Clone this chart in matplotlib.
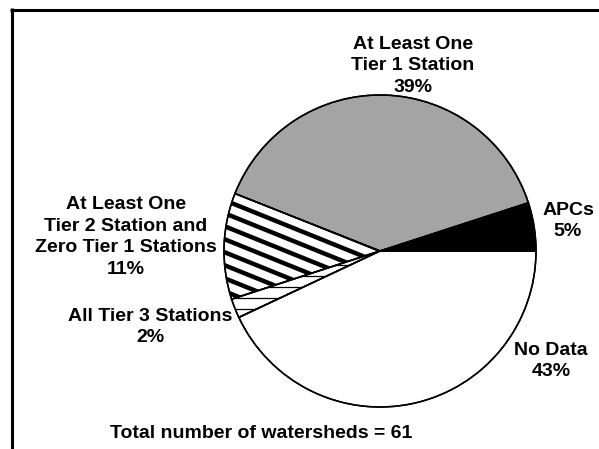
import numpy as np
import matplotlib
matplotlib.use("Agg")
import matplotlib.pyplot as plt

# ---- data ----
categories = ["APCs", "At Least One\nTier 1 Station", "At Least One\nTier 2 Station and\nZero Tier 1 Stations",
              "All Tier 3 Stations", "No Data"]
shares = [5, 39, 11, 2, 43]
total_label = "Total number of watersheds = 61"

W, H = 599, 449
fig = plt.figure(figsize=(W / 100, H / 100), dpi=100)
ax = fig.add_axes([0, 0, 1, 1])

cx, cy, R = 380, H - 251, 156
faces = ["black", "#a4a4a4", "white", "white", "white"]
wedges, _ = ax.pie(shares, startangle=0, counterclock=True, center=(cx, cy), radius=R,
                   colors=faces, frame=True,
                   wedgeprops=dict(edgecolor="black", linewidth=1.1))
ax.set_xlim(0, W)
ax.set_ylim(0, H)
ax.set_aspect("equal")
ax.axis("off")

# texture: diagonal stripes for Tier 2 slice
slope = -np.tan(np.deg2rad(22))
spacing = 13
for b in np.arange(cy - 300, cy + 300, spacing):
    xs = np.array([cx - R - 10, cx + 10])
    ys = b + slope * (xs - (cx - R))
    ln, = ax.plot(xs, ys, color="black", lw=3.2, solid_capstyle="butt", zorder=3)
    ln.set_clip_path(wedges[2])
# horizontal lines for Tier 3 slice
for yy in np.arange(cy - 80, cy + 10, 11):
    ln, = ax.plot([cx - R - 5, cx], [yy, yy], color="black", lw=0.9, zorder=3)
    ln.set_clip_path(wedges[3])
for w in wedges:
    w.set_zorder(2)
for w in wedges:
    th1, th2 = np.deg2rad(w.theta1), np.deg2rad(w.theta2)
    t = np.linspace(th1, th2, 100)
    xs = np.concatenate([[cx], cx + R * np.cos(t), [cx]])
    ys = np.concatenate([[cy], cy + R * np.sin(t), [cy]])
    ax.plot(xs, ys, color="black", lw=1.1, zorder=4)

fkw = dict(fontsize=14, fontweight="bold", family="Liberation Sans",
           ha="center", va="center", linespacing=1.35, zorder=5)
ax.text(413, H - 66, categories[1] + "\n" + f"{shares[1]}%", **fkw)
ax.text(568, H - 221, categories[0] + "\n" + f"{shares[0]}%", **fkw)
ax.text(126, H - 237, categories[2] + "\n" + f"{shares[2]}%", **fkw)
ax.text(150, H - 327, categories[3] + "\n" + f"{shares[3]}%", **fkw)
ax.text(551, H - 361, categories[4] + "\n" + f"{shares[4]}%", **fkw)
ax.text(261, H - 433, total_label, **fkw)

# frame
ax.plot([11.5, 11.5], [0, H - 8], color="black", lw=2.2, solid_capstyle="butt")
ax.plot([10, W], [H - 9.5, H - 9.5], color="black", lw=2.2, solid_capstyle="butt")

fig.savefig("out.png", dpi=100)
